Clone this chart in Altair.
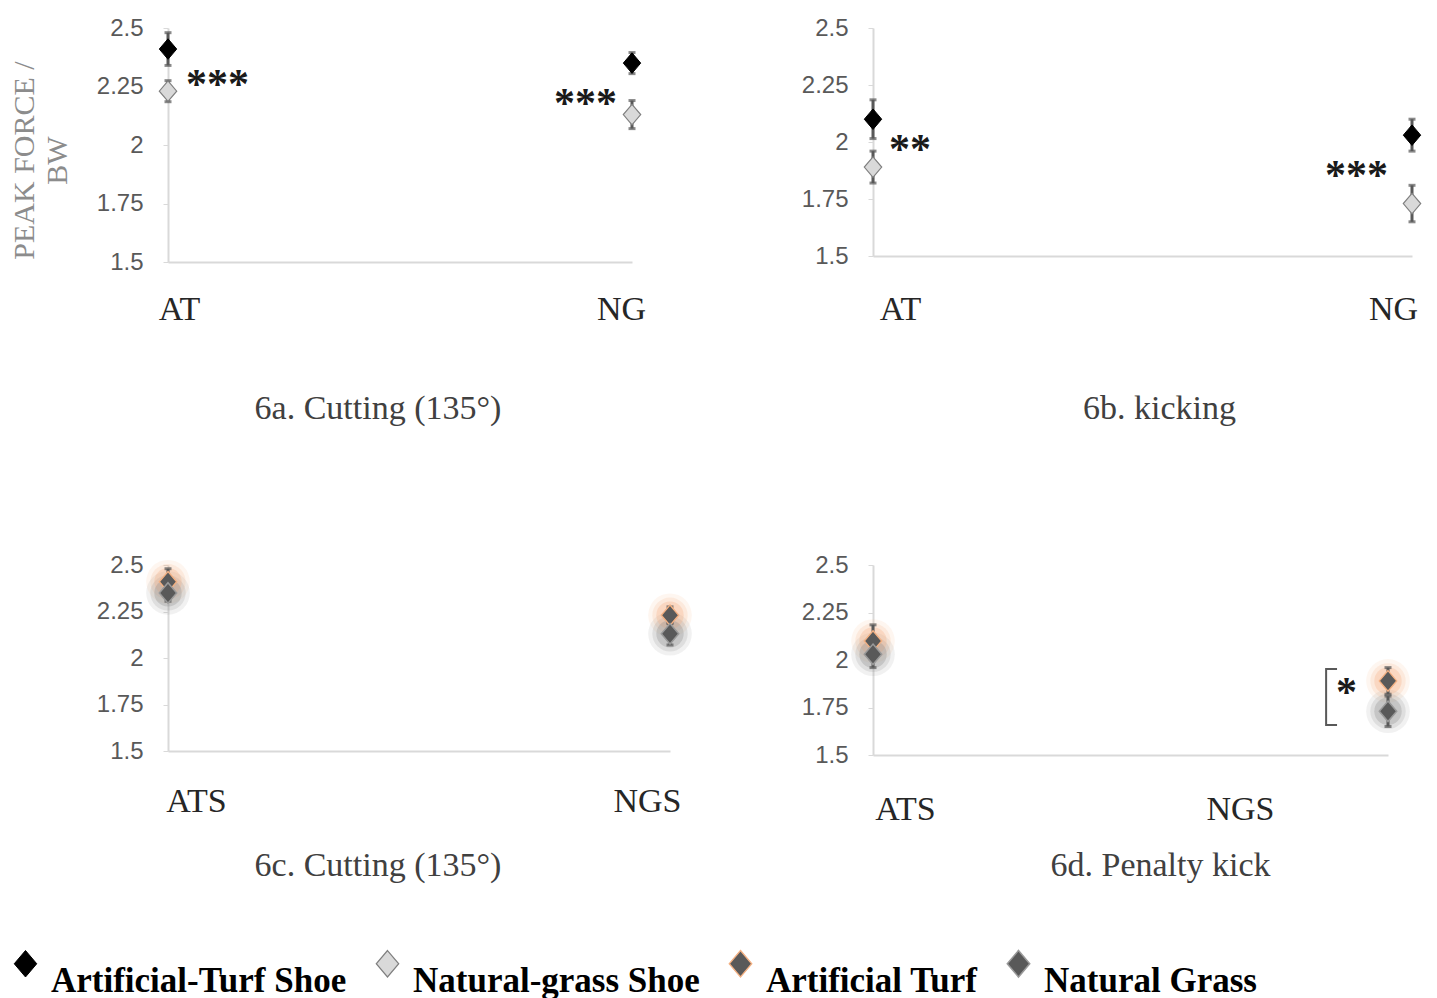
import altair as alt
import pandas as pd

# ---------------- data ----------------
shoe_series = ["Artificial-Turf Shoe", "Natural-grass Shoe"]
surface_series = ["Artificial Turf", "Natural Grass"]
all_series = shoe_series + surface_series

surface_cats = ["AT", "NG"]
shoe_cats = ["ATS", "NGS"]

# 6a. Cutting (135°) : by surface, one series per shoe
a_ats_mean = [2.41, 2.35]
a_ats_err = [0.07, 0.045]
a_ngs_mean = [2.23, 2.13]
a_ngs_err = [0.045, 0.06]
# 6b. kicking
b_ats_mean = [2.10, 2.03]
b_ats_err = [0.085, 0.07]
b_ngs_mean = [1.89, 1.73]
b_ngs_err = [0.07, 0.08]
# 6c. Cutting (135°) : by shoe, one series per surface
c_at_mean = [2.41, 2.23]
c_at_err = [0.07, 0.045]
c_ng_mean = [2.35, 2.13]
c_ng_err = [0.045, 0.06]
# 6d. Penalty kick
d_at_mean = [2.10, 1.89]
d_at_err = [0.085, 0.07]
d_ng_mean = [2.03, 1.73]
d_ng_err = [0.07, 0.08]

panel_titles = ["6a. Cutting (135°)", "6b. kicking", "6c. Cutting (135°)", "6d. Penalty kick"]
y_ticks = [1.5, 1.75, 2, 2.25, 2.5]
y_title = ["PEAK FORCE /", "BW"]
sig_a = ["***", "***"]
sig_b = ["**", "***"]
sig_c = ["", ""]
sig_d = ["", "*"]

# ---------------- styles ----------------
SERIF = "Liberation Serif"
SANS = "Liberation Sans"
DIAMOND = "M 0 -1 L 0.85 0 L 0 1 L -0.85 0 Z"
BRACKET = "M -1.82 -1 L -2.21 -1 L -2.21 1 L -1.82 1"

fill_colors = ["#000000", "#d9d9d9", "#595959", "#595959"]
stroke_colors = ["#000000", "#7f7f7f", "#f4b183", "#9a9a9a"]
stroke_widths = [1, 1.5, 8, 8]
stroke_opac = [1, 1, 0.6, 0.6]
halo_colors = ["#f4b183", "#8c8c8c"]

leg = alt.Legend(
    title=None, orient="none", legendX=-160, legendY=918, direction="horizontal",
    labelFont=SERIF, labelFontSize=35, labelFontWeight="bold", labelColor="#000000",
    labelBaseline="top", labelLimit=600, symbolSize=700, labelOffset=8, columnPadding=23,
)


def make_panel(cats, series, means, errs, sig, title, w, h, lab_off, lab_pad,
               title_dx, title_offset, sig_dx, sig_dy, halo=False, ytitle=None,
               bracket=False):
    rows = []
    for s, ms, es in zip(series, means, errs):
        for c, m, e in zip(cats, ms, es):
            rows.append(dict(cat=c, series=s, mean=m, lo=m - e, hi=m + e))
    df = pd.DataFrame(rows)

    xaxis = alt.Axis(
        title=None, labelAngle=0, labelFont=SERIF, labelFontSize=34, labelColor="#262626",
        ticks=False, domainColor="#d9d9d9", domainWidth=2, labelPadding=lab_pad,
        labelAlign="center",
        labelOffset={"condition": {"test": "datum.index < 0.5", "value": lab_off[0]},
                     "value": lab_off[1]},
    )
    yargs = dict(
        values=y_ticks, format=".3~g", labelFont=SANS, labelFontSize=24, labelColor="#595959",
        labelPadding=20, tickSize=5, tickColor="#d9d9d9", domainColor="#d9d9d9",
        domainWidth=2, grid=False,
    )
    if ytitle:
        yaxis = alt.Axis(title=ytitle, titleFont=SERIF, titleFontSize=30,
                         titleFontWeight="normal", titleColor="#8c8c8c",
                         titlePadding=24, titleLineHeight=33, titleY=132, **yargs)
    else:
        yaxis = alt.Axis(title=None, **yargs)

    xenc = alt.X("cat:N", scale=alt.Scale(type="point", padding=0, domain=cats), axis=xaxis)
    yscale = alt.Scale(domain=[1.5, 2.5], nice=False, zero=False)

    base = alt.Chart(df).encode(x=xenc)
    layers = []
    if halo:
        hscale = alt.Scale(domain=surface_series, range=halo_colors)
        for sz, op in [(1900, 0.12), (1250, 0.18), (750, 0.3)]:
            layers.append(base.mark_circle(size=sz, opacity=op).encode(
                y=alt.Y("mean:Q", scale=yscale, axis=yaxis),
                color=alt.Color("series:N", scale=hscale, legend=None)))
    layers.append(base.mark_rule(color="#595959", strokeWidth=3).encode(
        y=alt.Y("lo:Q", scale=yscale, axis=yaxis), y2="hi:Q"))
    layers.append(base.mark_tick(color="#595959", thickness=3, size=7).encode(
        y=alt.Y("lo:Q", scale=yscale, axis=yaxis)))
    layers.append(base.mark_tick(color="#595959", thickness=3, size=7).encode(
        y=alt.Y("hi:Q", scale=yscale, axis=yaxis)))
    layers.append(base.mark_point(shape=DIAMOND, size=420, filled=True, opacity=1).encode(
        y=alt.Y("mean:Q", scale=yscale, axis=yaxis),
        fill=alt.Fill("series:N", scale=alt.Scale(domain=all_series, range=fill_colors), legend=leg),
        stroke=alt.Stroke("series:N", scale=alt.Scale(domain=all_series, range=stroke_colors), legend=leg),
        strokeWidth=alt.StrokeWidth("series:N", scale=alt.Scale(domain=all_series, range=stroke_widths), legend=leg),
        strokeOpacity=alt.StrokeOpacity("series:N", scale=alt.Scale(domain=all_series, range=stroke_opac), legend=leg),
    ))

    srows = []
    for i, (c, t) in enumerate(zip(cats, sig)):
        if t:
            srows.append(dict(cat=c, mid=(means[0][i] + means[1][i]) / 2, text=t,
                              side="left" if i == 0 else "right"))
    if srows:
        sdf = pd.DataFrame(srows)
        sbase = alt.Chart(sdf).encode(
            x=xenc, y=alt.Y("mid:Q", scale=yscale, axis=yaxis), text="text:N")
        if any(r["side"] == "left" for r in srows):
            layers.append(sbase.transform_filter("datum.side == 'left'").mark_text(
                align="left", baseline="alphabetic", dx=sig_dx[0], dy=sig_dy,
                font=SERIF, fontSize=42, fontWeight="bold", color="#1a1a1a"))
        if any(r["side"] == "right" for r in srows):
            layers.append(sbase.transform_filter("datum.side == 'right'").mark_text(
                align="right", baseline="alphabetic", dx=sig_dx[1], dy=sig_dy,
                font=SERIF, fontSize=42, fontWeight="bold", color="#1a1a1a"))

    if bracket:
        last = cats[-1]
        sub = df[df["cat"] == last]
        bdf = pd.DataFrame([dict(cat=last, mid=(sub["hi"].max() + sub["lo"].min()) / 2)])
        layers.append(alt.Chart(bdf).mark_point(
            shape=BRACKET, size=3136, filled=False, stroke="#595959", strokeWidth=2,
            opacity=1).encode(x=xenc, y=alt.Y("mid:Q", scale=yscale, axis=yaxis)))

    return alt.layer(*layers).properties(
        width=w, height=h,
        title=alt.TitleParams(text=title, orient="bottom", anchor="middle", font=SERIF,
                              fontSize=34, fontWeight="normal", color="#404040",
                              dx=title_dx, offset=title_offset),
    )


pa = make_panel(surface_cats, shoe_series, [a_ats_mean, a_ngs_mean], [a_ats_err, a_ngs_err],
                sig_a, panel_titles[0], 464, 234, (11, -11), 30, -22, 66, (18, -15), 28,
                ytitle=y_title)
pb = make_panel(surface_cats, shoe_series, [b_ats_mean, b_ngs_mean], [b_ats_err, b_ngs_err],
                sig_b, panel_titles[1], 539, 228, (27, -19), 36, 17, 66, (16, -24), 20)
pc = make_panel(shoe_cats, surface_series, [c_at_mean, c_ng_mean], [c_at_err, c_ng_err],
                sig_c, panel_titles[2], 502, 186, (28, -23), 33, -41, 31, (0, 0), 0,
                halo=True)
pd_ = make_panel(shoe_cats, surface_series, [d_at_mean, d_ng_mean], [d_at_err, d_ng_err],
                 sig_d, panel_titles[3], 515, 190, (32, -148), 37, 30, 23, (0, -31), 10,
                 halo=True, bracket=True)

chart = alt.concat(pa, pb, pc, pd_, columns=2, spacing={"row": 303, "column": 203},
                   bounds="flush").properties(
    padding={"left": 0, "top": 8, "right": 5, "bottom": 5},
    background="white",
).configure_view(stroke=None)

chart.save("out.html", embed_options={"renderer": "svg", "actions": False})
